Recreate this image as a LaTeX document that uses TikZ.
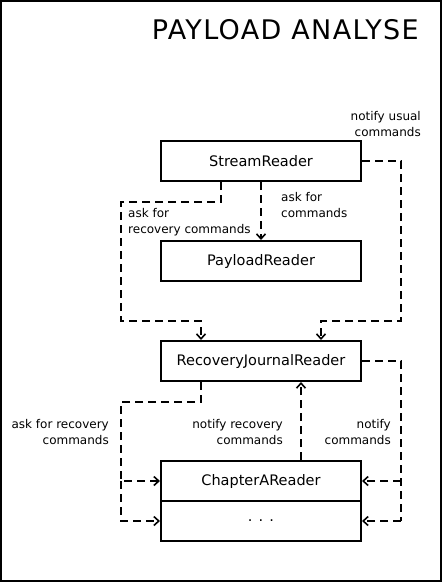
\documentclass[tikz,border=0pt]{standalone}
\usepackage{fontspec}
\setmainfont{DejaVu Sans}
\usetikzlibrary{arrows.meta, positioning}
\newcommand\boxfont{\fontsize{14.5}{17}\selectfont}
\newcommand\notefont{\fontsize{12}{15.5}\selectfont}
\tikzset{
  reader/.style={draw, line width=2pt, minimum width=200pt, minimum height=40pt, inner sep=0pt, font=\boxfont},
  flow/.style={line width=2pt, dash pattern=on 8pt off 5pt, -{Straight Barb[length=5pt, width=9pt, line width=1.6pt]}},
  rail/.style={line width=2pt, dash pattern=on 8pt off 5pt},
  noteL/.style={align=left, anchor=west, font=\notefont, inner sep=0pt},
  noteR/.style={align=right, anchor=east, font=\notefont, inner sep=0pt}
}

\begin{document}
\begin{tikzpicture}[x=1pt, y=-1pt]
\useasboundingbox (0,0) rectangle (442,582);
\draw[line width=2pt] (1,1) rectangle (441,581);
\node[anchor=base east, inner sep=0pt, font=\fontsize{27}{32}\selectfont\addfontfeature{LetterSpace=5}] (title) at (419,39) {PAYLOAD ANALYSE};

% the readers
\node[reader] (stream) at (261,161) {StreamReader};
\node[reader] (payload) at (261,261) {PayloadReader};
\node[reader] (journal) at (261,361) {RecoveryJournalReader};
\node[reader] (chaptera) at (261,481) {ChapterAReader};
\node[reader] (dots) at (261,521) {. . .};

% rails
\coordinate (lrail) at (121,0);
\coordinate (rrail) at (401,0);

% StreamReader
\draw[flow] (stream.south) -- (payload.north);
\draw[flow] ([xshift=-40pt]stream.south) -- ++(0,20) -| (lrail |- 0,321) -| ([xshift=-60pt]journal.north);
\draw[flow] (stream.east) -| (rrail |- 0,321) -| ([xshift=60pt]journal.north);
\node[noteL] (askcmd) at (281,205) {ask for\\commands};
\node[noteL] (askrec) at (128,222) {ask for\\recovery commands};
\node[noteR] (notusual) at (421,124) {notify usual\\commands};

% RecoveryJournalReader
\draw[flow] ([xshift=-60pt]journal.south) -- ++(0,20) -| (lrail |- chaptera.west) -- (chaptera.west);
\draw[flow] (lrail |- chaptera.west) |- (dots.west);
\draw[flow] ([xshift=40pt]chaptera.north) -- ([xshift=40pt]journal.south);
\draw[rail] (journal.east) -| (rrail |- dots.east);
\draw[flow] (rrail |- chaptera.east) -- (chaptera.east);
\draw[flow] (rrail |- dots.east) -- (dots.east);
\node[noteR] (askrec2) at (109,432) {ask for recovery\\commands};
\node[noteR] (notrec) at (283,432) {notify recovery\\commands};
\node[noteR] (notcmd) at (391,432) {notify\\commands};
\end{tikzpicture}
\end{document}
